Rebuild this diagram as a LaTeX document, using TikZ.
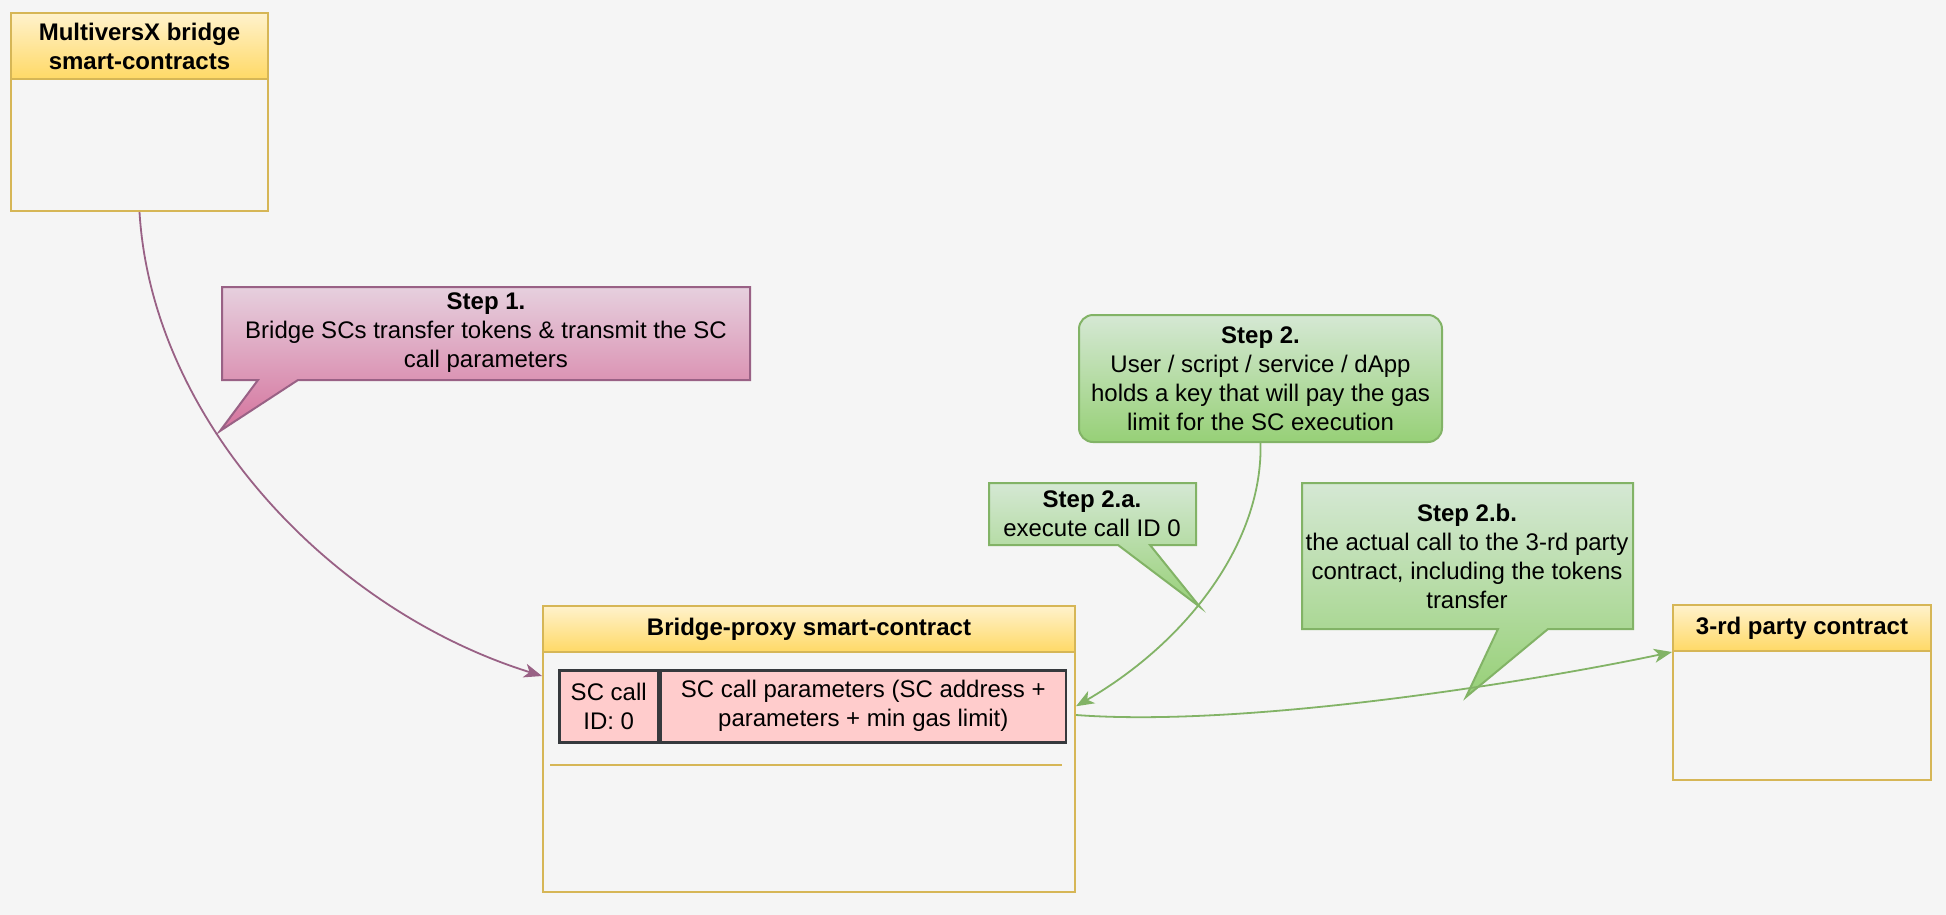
\documentclass[tikz,border=0pt]{standalone}
\usepackage{fontspec}
\setmainfont{Liberation Sans}
\usetikzlibrary{positioning,arrows.meta,calc}

\definecolor{bgGrey}{HTML}{F5F5F5}
\definecolor{headTop}{HTML}{FFF2CC}
\definecolor{headBot}{HTML}{FFD966}
\definecolor{headLine}{HTML}{D6B656}
\definecolor{pinkTop}{HTML}{E6D0DE}
\definecolor{pinkBot}{HTML}{D5739D}
\definecolor{pinkLine}{HTML}{996185}
\definecolor{greenTop}{HTML}{D5E8D4}
\definecolor{greenBot}{HTML}{97D077}
\definecolor{greenLine}{HTML}{82B366}
\definecolor{cellFill}{HTML}{FFCCCC}
\definecolor{cellLine}{HTML}{36393D}

\tikzset{
  every node/.style={font=\fontsize{24}{29}\selectfont},
  lane/.style={draw=headLine, line width=2pt, anchor=north west, inner sep=0pt},
  lanehead/.style={lane, top color=headTop, bottom color=headBot,
    font=\fontsize{24}{29}\selectfont\bfseries, align=center},
  cell/.style={draw=cellLine, fill=cellFill, line width=2.5pt,
    anchor=north west, align=center, inner sep=0pt},
  pinkcall/.style={draw=pinkLine, top color=pinkTop, bottom color=pinkBot, line width=2pt},
  greencall/.style={draw=greenLine, top color=greenTop, bottom color=greenBot, line width=2pt},
  calltext/.style={align=center, inner sep=0pt},
  flow/.style={line width=1.8pt, -{Stealth[length=18pt, width=14pt, inset=5pt]}}
}

\begin{document}
\begin{tikzpicture}[x=1pt, y=-1pt]
    % background and page size
    \fill[bgGrey] (0,0) rectangle (1946,915);
    \useasboundingbox (0,0) rectangle (1946,915);

    % MultiversX bridge smart-contracts
    \node[lane, minimum width=257pt, minimum height=198pt] (mvx) at (10,12) {};
    \node[lanehead, minimum width=257pt, minimum height=66pt] (mvxHead) at (mvx.north west)
        {MultiversX bridge\\smart-contracts};

    % Bridge-proxy smart-contract
    \node[lane, minimum width=532pt, minimum height=286pt] (bridge) at (542,605) {};
    \node[lanehead, minimum width=532pt, minimum height=46pt] (bridgeHead) at (bridge.north west)
        {Bridge-proxy smart-contract};
    \node[cell, minimum width=99pt, minimum height=72pt] (callId) at (558,669)
        {SC call\\ID: 0};
    \node[cell, minimum width=405pt, minimum height=72pt] (callParams) at (callId.north east)
        {SC call parameters (SC address +\\parameters + min gas limit)};
    \draw[headLine, line width=2pt] (550,765) -- (1062,765);

    % 3-rd party contract
    \node[lane, minimum width=258pt, minimum height=175pt] (party) at (1672,604) {};
    \node[lanehead, minimum width=258pt, minimum height=46pt] (partyHead) at (party.north west)
        {3-rd party contract};

    % Step 1 callout
    \path[pinkcall] (222,287) -- (750,287) -- (750,380) -- (298,380) -- (220,431)
        -- (258,380) -- (222,380) -- cycle;
    \node[calltext] (step1) at (486,333)
        {\textbf{Step 1.}\\Bridge SCs transfer tokens \& transmit the SC\\call parameters};

    % Step 2 box
    \node[greencall, rounded corners=14pt, anchor=north west, minimum width=363pt,
        minimum height=127pt, align=center, inner sep=0pt] (step2) at (1078,314)
        {\textbf{Step 2.}\\User / script / service / dApp\\holds a key that will pay the gas\\limit for the SC execution};

    % Step 2.a callout
    \path[greencall] (989,483) -- (1196,483) -- (1196,545) -- (1150,545) -- (1200,607)
        -- (1118,545) -- (989,545) -- cycle;
    \node[calltext] (step2a) at (1092,514) {\textbf{Step 2.a.}\\execute call ID 0};

    % Step 2.b callout
    \path[greencall] (1302,483) -- (1633,483) -- (1633,629) -- (1548,629) -- (1466,697)
        -- (1498,629) -- (1302,629) -- cycle;
    \node[calltext] (step2b) at (1467,556)
        {\textbf{Step 2.b.}\\the actual call to the 3-rd party\\contract, including the tokens\\transfer};

    % connectors
    \draw[flow, pinkLine] (mvx.south) .. controls (152,420) and (330,610) .. ($(bridge.north west)+(0,71)$);
    \draw[flow, greenLine] (step2.south) .. controls (1263,540) and (1190,640) .. (bridge.east |- callParams.center);
    \draw[flow, greenLine] ($(bridge.north east)+(0,110)$) .. controls (1250,728) and (1540,680) .. (partyHead.south west);

\end{tikzpicture}
\end{document}
